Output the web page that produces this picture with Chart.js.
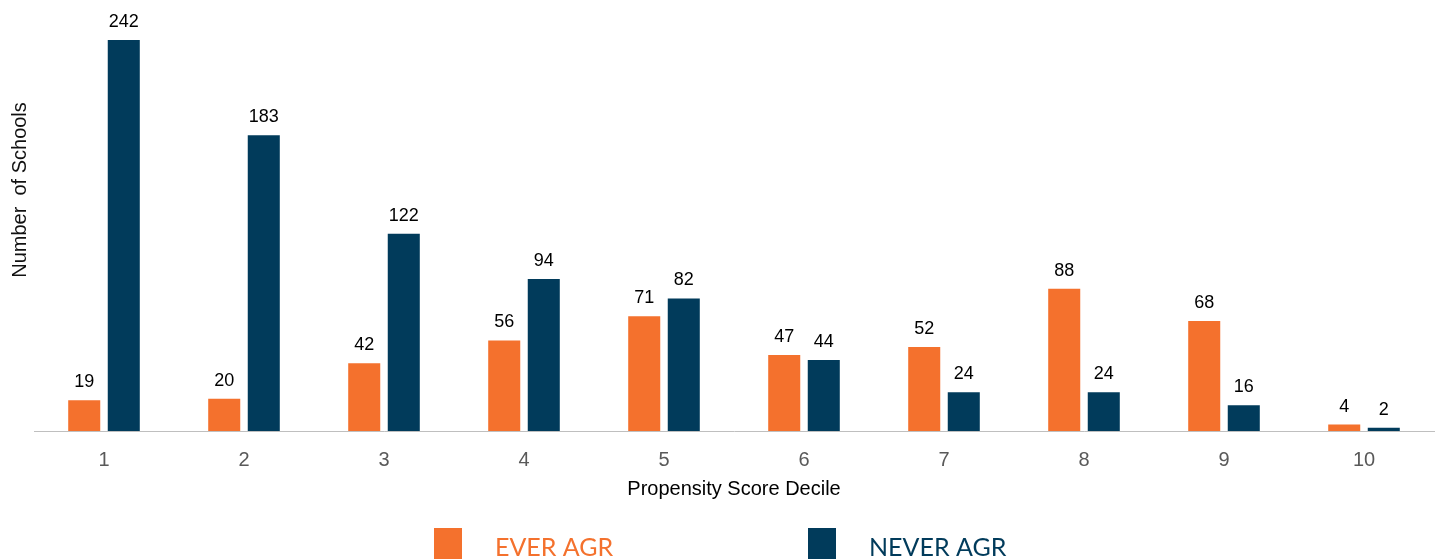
<!DOCTYPE html>
<html>
<head>
<meta charset="utf-8">
<script src="https://cdn.jsdelivr.net/npm/chart.js@4/dist/chart.umd.min.js"></script>
<style>
html,body{margin:0;padding:0;background:#fff;}
#wrap{width:1436px;height:559px;position:relative;}
</style>
</head>
<body>
<div id="wrap"><canvas id="c"></canvas></div>
<script>
const categories = ['1','2','3','4','5','6','7','8','9','10'];
const seriesNames = ['EVER AGR','NEVER AGR'];
const everAgr = [19,20,42,56,71,47,52,88,68,4];
const neverAgr = [242,183,122,94,82,44,24,24,16,2];
const seriesColors = ['#F4712D','#013B5B'];

const valueLabels = {
  id:'valueLabels',
  afterDatasetsDraw(chart){
    const ctx = chart.ctx;
    ctx.save();
    ctx.font = '18px "Liberation Sans", Arial, sans-serif';
    ctx.fillStyle = '#000';
    ctx.textAlign = 'center';
    ctx.textBaseline = 'bottom';
    chart.data.datasets.forEach((ds,i)=>{
      chart.getDatasetMeta(i).data.forEach((el,j)=>{
        ctx.fillText(String(ds.data[j]), el.x, el.y - 9);
      });
    });
    ctx.restore();
  }
};

const yTitle = {
  id:'yTitle',
  afterDraw(chart){
    const ctx = chart.ctx;
    ctx.save();
    ctx.translate(20, 190);
    ctx.rotate(-Math.PI/2);
    ctx.font = '20px "Liberation Sans", Arial, sans-serif';
    ctx.fillStyle = '#111';
    ctx.textAlign = 'center';
    ctx.textBaseline = 'middle';
    ctx.fillText('Number  of Schools', 0, 0);
    ctx.restore();
  }
};

const customLegend = {
  id:'customLegend',
  afterDraw(chart){
    const ctx = chart.ctx;
    ctx.save();
    const boxX = [434, 808];
    const boxTop = 528;
    ctx.font = '25px Lato, "Open Sans", sans-serif';
    ctx.textBaseline = 'middle';
    ctx.textAlign = 'left';
    chart.data.datasets.forEach((ds,i)=>{
      ctx.fillStyle = ds.backgroundColor;
      ctx.fillRect(boxX[i], boxTop, 28, 31);
      ctx.fillText(ds.label, boxX[i] + 61, boxTop + 20);
    });
    ctx.restore();
  }
};

new Chart(document.getElementById('c'), {
  type:'bar',
  data:{
    labels: categories,
    datasets:[
      {label: seriesNames[0], data: everAgr, backgroundColor: seriesColors[0]},
      {label: seriesNames[1], data: neverAgr, backgroundColor: seriesColors[1]}
    ]
  },
  options:{
    responsive:true,
    maintainAspectRatio:false,
    animation:false,
    categoryPercentage:0.565,
    barPercentage:0.81,
    layout:{padding:{left:0,right:2,top:27,bottom:58}},
    plugins:{legend:{display:false},tooltip:{enabled:false}},
    scales:{
      x:{
        grid:{display:false},
        border:{display:true,color:'#BFBFBF',width:1},
        ticks:{color:'#595959',font:{size:20,family:'"Liberation Sans", Arial, sans-serif'},padding:9},
        title:{display:true,text:'Propensity Score Decile',color:'#000',font:{size:20,family:'"Liberation Sans", Arial, sans-serif'},padding:{top:-4,bottom:0}}
      },
      y:{
        min:0,max:250,
        grid:{display:false},
        border:{display:false},
        ticks:{display:false},
        afterFit(scale){ scale.width = 34; },
        title:{display:false}
      }
    }
  },
  plugins:[valueLabels, yTitle, customLegend]
});
</script>
</body>
</html>
